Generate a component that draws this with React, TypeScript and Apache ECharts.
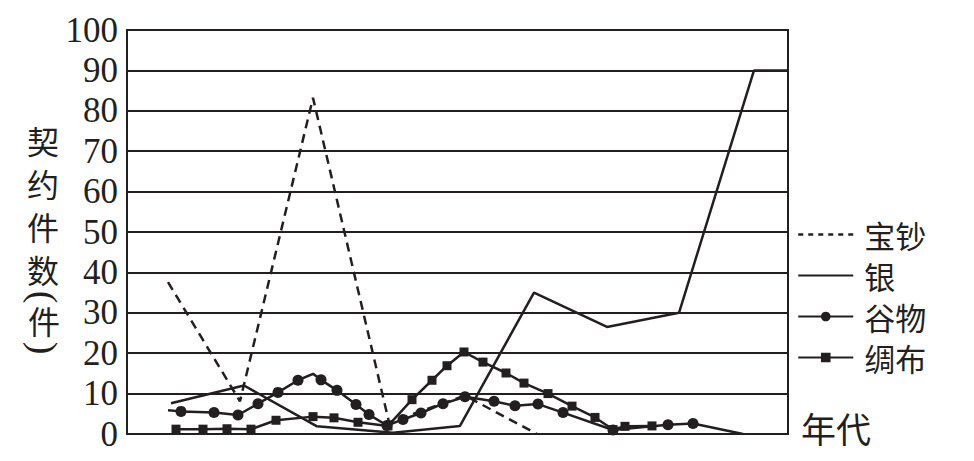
import React, { useEffect, useRef } from "react";
import * as echarts from "echarts";

// x = position along the time axis (arbitrary units, 0..661), y = 契约件数
const seriesNames = ["宝钞", "银", "谷物", "绸布"];
const yTicks = [0, 10, 20, 30, 40, 50, 60, 70, 80, 90, 100];

const baochao: [number, number][] = [
  [41, 37.6], [113, 8.1], [186, 83.2], [262, 2.9], [338, 9.5], [410, 0],
];
const yin: [number, number][] = [
  [44, 7.6], [117, 12], [190, 1.9], [266, 0.3], [333, 2], [407, 35],
  [480, 26.5], [552, 30], [627, 90], [661, 90],
];
const guwu: [number, number][] = [
  [41, 5.9], [54, 5.6], [87, 5.3], [111, 4.7], [131, 7.5], [151, 10.3],
  [171, 13.3], [186, 14.9], [194, 13.4], [210, 10.8], [229, 7.3], [242, 4.8],
  [260, 2.1], [276, 3.6], [294, 5.2], [316, 7.5], [338, 9.2], [367, 8.1],
  [388, 7.0], [411, 7.4], [436, 5.3], [486, 1.0], [541, 2.3], [566, 2.6], [616, 0],
];
const guwuUnmarked = [0, 7, 24];
const choubu: [number, number][] = [
  [49, 1.2], [76, 1.2], [100, 1.3], [124, 1.2], [149, 3.4], [186, 4.3],
  [207, 4.0], [231, 2.9], [261, 2.0], [285, 8.5], [305, 13.3], [320, 16.9],
  [337, 20.3], [356, 17.8], [379, 15.1], [397, 12.6], [421, 10], [445, 6.9],
  [468, 4.1], [486, 1.1], [498, 1.9], [525, 2.0],
];

const INK = "#231f20";
const CJK = "'Noto Sans CJK SC', sans-serif";
const SERIF = "'Liberation Serif', serif";

export default function App() {
  const ref = useRef<HTMLDivElement>(null);
  useEffect(() => {
    if (!ref.current) return;
    const chart = echarts.init(ref.current, undefined, { renderer: "svg" });
    const lineBase = { type: "line" as const, lineStyle: { color: INK, width: 2.5 }, itemStyle: { color: INK } };
    chart.setOption({
      animation: false,
      backgroundColor: "#ffffff",
      grid: {
        left: 127, right: 186, top: 30, bottom: 27,
        show: true, borderColor: INK, borderWidth: 2,
      },
      xAxis: {
        type: "value", min: 0, max: 661,
        axisLine: { show: false }, axisTick: { show: false },
        axisLabel: { show: false }, splitLine: { show: false },
        name: "年代", nameLocation: "end", nameGap: 13,
        nameTextStyle: {
          fontSize: 35, fontFamily: CJK, color: INK,
          verticalAlign: "bottom", lineHeight: 14,
        },
      },
      yAxis: {
        type: "value", min: yTicks[0], max: yTicks[yTicks.length - 1], interval: 10,
        axisLine: { show: true, lineStyle: { color: INK, width: 2 } },
        axisTick: { show: false },
        axisLabel: { fontFamily: SERIF, fontSize: 35, color: INK, margin: 9 },
        splitLine: { show: true, lineStyle: { color: INK, width: 2 } },
      },
      legend: {
        data: [
          { name: seriesNames[0], itemStyle: { opacity: 0 }, lineStyle: { type: [5, 5], width: 2.5 } },
          { name: seriesNames[1], itemStyle: { opacity: 0 } },
          { name: seriesNames[2] },
          { name: seriesNames[3] },
        ],
        orient: "vertical", left: 797, top: 219,
        itemWidth: 55, itemHeight: 12, itemGap: 10, padding: 0,
        textStyle: { fontSize: 31, fontFamily: CJK, color: INK, padding: [0, 0, 0, 6] },
      },
      graphic: [
        {
          type: "text", left: 27, top: 118,
          style: { text: "契\n约\n件\n数", fill: INK, fontSize: 32, lineHeight: 43, fontFamily: CJK },
        },
        {
          type: "text", x: 44, y: 297, rotation: -Math.PI / 2,
          style: { text: "(", fill: INK, fontSize: 38, fontFamily: SERIF, align: "center", verticalAlign: "middle" },
        },
        {
          type: "text", x: 44, y: 320,
          style: { text: "件", fill: INK, fontSize: 32, fontFamily: CJK, align: "center", verticalAlign: "middle" },
        },
        {
          type: "text", x: 44, y: 348, rotation: -Math.PI / 2,
          style: { text: ")", fill: INK, fontSize: 38, fontFamily: SERIF, align: "center", verticalAlign: "middle" },
        },
      ],
      series: [
        {
          ...lineBase, name: seriesNames[0], data: baochao, symbol: "none",
          lineStyle: { color: INK, width: 2.5, type: [9, 6] },
        },
        { ...lineBase, name: seriesNames[1], data: yin, symbol: "none" },
        {
          ...lineBase, name: seriesNames[2], symbol: "circle", symbolSize: 11,
          data: guwu.map((p, i) => guwuUnmarked.includes(i) ? { value: p, symbol: "none" } : { value: p }),
        },
        { ...lineBase, name: seriesNames[3], data: choubu, symbol: "rect", symbolSize: 9 },
      ],
    });
    return () => chart.dispose();
  }, []);
  return <div ref={ref} style={{ position: "fixed", left: 0, top: 0, width: 974, height: 461 }} />;
}
